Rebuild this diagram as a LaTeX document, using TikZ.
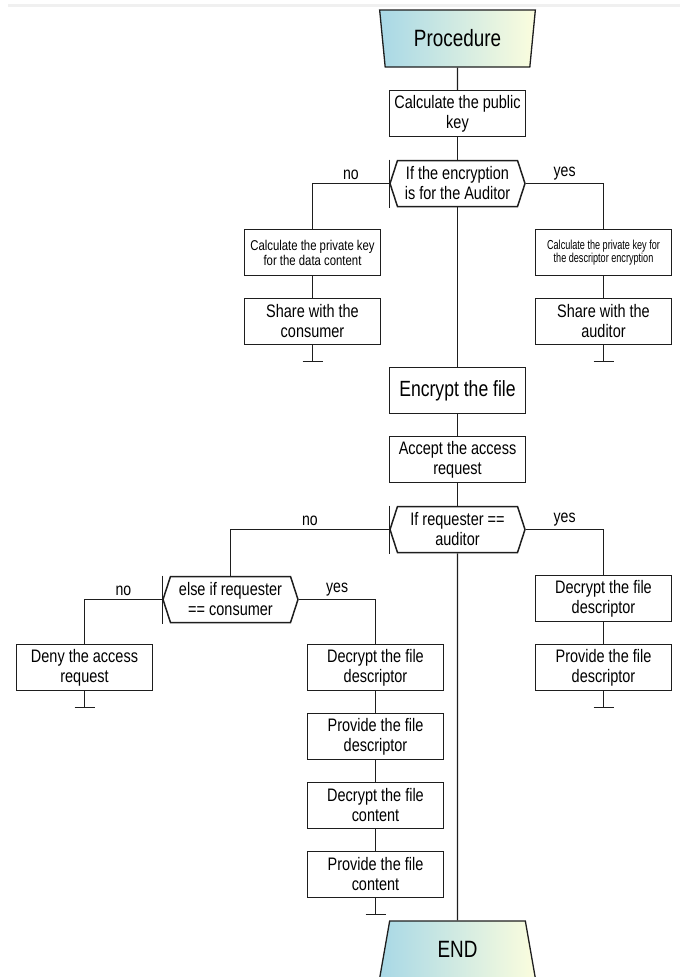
\documentclass[tikz,border=0pt]{standalone}
\usepackage{fontspec}
\setmainfont{Liberation Sans}[FakeStretch=0.8]
\newfontfamily\narrowfont{Liberation Sans}[FakeStretch=0.7]
\usetikzlibrary{positioning,shapes.geometric,shapes.symbols}
\definecolor{termblue}{RGB}{168,216,230}
\definecolor{termyellow}{RGB}{251,253,222}
\definecolor{inkline}{RGB}{30,30,30}
\tikzset{
  stepbox/.style={draw=inkline, line width=1.5pt, minimum width=136pt, minimum height=46pt,
    inner sep=1pt, align=center, font=\fontsize{18.1}{20}\selectfont},
  smallbox/.style={stepbox, font=\fontsize{14.2}{15}\selectfont},
  narrowbox/.style={stepbox, font=\narrowfont\fontsize{13}{13.5}\selectfont},
  bigbox/.style={stepbox, font=\fontsize{22}{24}\selectfont},
  casebox/.style={signal, signal to=west and east, signal pointer angle=144, draw=inkline,
    line width=1.5pt, minimum width=135pt, minimum height=46pt, inner sep=1pt, align=center,
    font=\fontsize{18.1}{20}\selectfont},
  termbox/.style={trapezium, trapezium stretches=true, trapezium left angle=81.5,
    trapezium right angle=81.5, minimum width=156pt, minimum height=57pt, draw=inkline,
    line width=1.3pt, left color=termblue, right color=termyellow, font=\fontsize{23.6}{26}\selectfont},
  link/.style={draw=inkline, line width=1.1pt},
  lbl/.style={above, inner sep=3pt, font=\fontsize{17.6}{19}\selectfont}
}
\begin{document}
\begin{tikzpicture}[x=1pt,y=-1pt,node distance=69pt]
\useasboundingbox (0,0) rectangle (685,977);
\fill[gray!12] (8,4) rectangle (680,7);
% main column
\path (457.5,38.5) node[termbox, shape border rotate=180] (proc) {Procedure};
\path (457.5,113.5) node[stepbox] (pubkey) {Calculate the public\\key};
\path (457.5,183.5) node[casebox] (forauditor) {If the encryption\\is for the Auditor};
\path (457.5,390.5) node[bigbox] (encrypt) {Encrypt the file};
\path node[stepbox, below of=encrypt] (accept) {Accept the access\\request};
\path (457.5,529.5) node[casebox] (isauditor) {If requester ==\\auditor};
\path (457.5,949.5) node[termbox] (finish) {END};
% key branches
\path (312.5,252.5) node[smallbox] (privdata) {Calculate the private key\\for the data content};
\path node[stepbox, below of=privdata] (sharecons) {Share with the\\consumer};
\path (603.5,252.5) node[narrowbox] (privdesc) {Calculate the private key for\\the descriptor encryption};
\path node[stepbox, below of=privdesc] (shareaud) {Share with the\\auditor};
% request branches
\path (603.5,598.5) node[stepbox] (auddecrypt) {Decrypt the file\\descriptor};
\path node[stepbox, below of=auddecrypt] (audprovide) {Provide the file\\descriptor};
\path (230.5,599.5) node[casebox] (isconsumer) {else if requester\\== consumer};
\path (84.5,667.5) node[stepbox] (deny) {Deny the access\\request};
\path (375.5,667.5) node[stepbox] (condecrypt) {Decrypt the file\\descriptor};
\path node[stepbox, below of=condecrypt] (conprovide) {Provide the file\\descriptor};
\path node[stepbox, below of=conprovide] (condecont) {Decrypt the file\\content};
\path node[stepbox, below of=condecont] (conprocont) {Provide the file\\content};
% connectors
\draw[link] (proc.south) -- (pubkey.north);
\draw[link] (pubkey.south) -- (forauditor.north);
\draw[link] (forauditor.west) -| node[lbl, pos=.25] {no} (privdata.north);
\draw[link] (forauditor.east) -| node[lbl, pos=.25] {yes} (privdesc.north);
\draw[link] (privdata.south) -- (sharecons.north);
\draw[link] (privdesc.south) -- (shareaud.north);
\draw[link] (forauditor.south) -- (encrypt.north);
\draw[link] (encrypt.south) -- (accept.north);
\draw[link] (accept.south) -- (isauditor.north);
\draw[link] (isauditor.west) -| node[lbl, pos=.25] {no} (isconsumer.north);
\draw[link] (isauditor.east) -| node[lbl, pos=.25] {yes} (auddecrypt.north);
\draw[link] (isauditor.south) -- (finish.north);
\draw[link] (auddecrypt.south) -- (audprovide.north);
\draw[link] (isconsumer.west) -| node[lbl, pos=.25] {no} (deny.north);
\draw[link] (isconsumer.east) -| node[lbl, pos=.25] {yes} (condecrypt.north);
\draw[link] (condecrypt.south) -- (conprovide.north);
\draw[link] (conprovide.south) -- (condecont.north);
\draw[link] (condecont.south) -- (conprocont.north);
% case bars
\foreach \c in {forauditor,isauditor,isconsumer}
  \draw[link] ([yshift=24pt]\c.west) -- ([yshift=-24pt]\c.west);
% end ticks
\foreach \b in {sharecons,shareaud,deny,audprovide,conprocont} {
  \draw[link] (\b.south) -- ++(0,16) coordinate (\b-end);
  \draw[link] ([xshift=-10pt]\b-end) -- ([xshift=10pt]\b-end);
}
\end{tikzpicture}
\end{document}
